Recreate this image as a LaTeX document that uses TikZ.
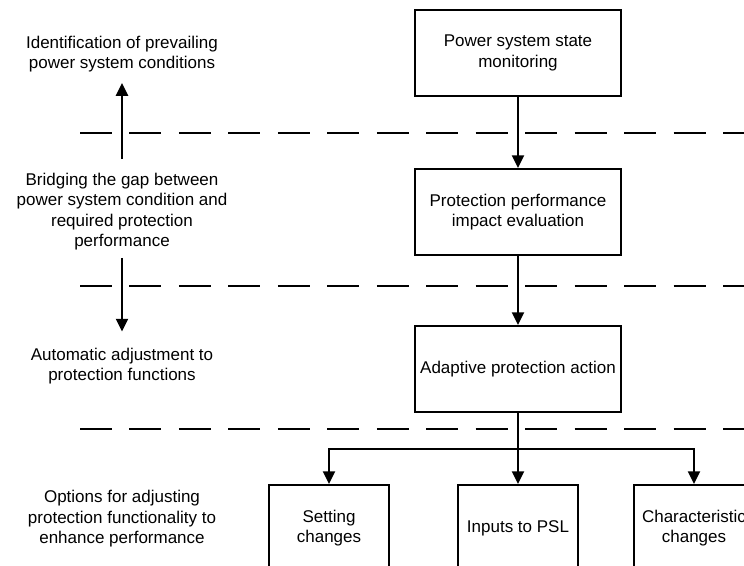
\documentclass[tikz,border=0pt]{standalone}
\usepackage{fontspec}
\setmainfont{Liberation Sans}
\usetikzlibrary{arrows.meta,positioning}

\begin{document}
\begin{tikzpicture}[x=0.75pt,y=-0.75pt,
  every node/.style={font=\fontsize{12.75}{15.4}\selectfont},
  stage/.style={draw,line width=1.5pt,minimum width=154.5pt,minimum height=64.5pt,align=center,inner sep=2pt},
  option/.style={stage,minimum width=90pt},
  note/.style={align=center,inner sep=0pt},
  flow/.style={line width=1.5pt,-{Triangle[length=9.5pt,width=9pt]}},
  divider/.style={line width=1.5pt,dash pattern=on 24pt off 13.1pt}]
\clip (0,0) rectangle (744,566);
% levels
\draw[divider] (80,133) -- (760,133);
\draw[divider] (80,286) -- (760,286);
\draw[divider] (80,429) -- (760,429);
% left column
\node[note] (ident) at (122,54) {Identification of prevailing\\power system conditions};
\node[note] (bridge) at (122,211.5) {Bridging the gap between\\power system condition and\\required protection\\performance};
\node[note] (adjust) at (122,366) {Automatic adjustment to\\protection functions};
\node[note] (opts) at (122,519) {Options for adjusting\\protection functionality to\\enhance performance};
\draw[flow,shorten <=10pt,shorten >=8pt] (bridge.north) -- (ident.south);
\draw[flow,shorten <=5.5pt,shorten >=12pt] (bridge.south) -- (adjust.north);
% right column
\node[stage] (mon) at (518,53) {Power system state\\monitoring};
\node[stage] (eval) at (518,212) {Protection performance\\impact evaluation};
\node[stage] (act) at (518,369) {Adaptive protection action};
\node[option] (set) at (329,528) {Setting\\changes};
\node[option] (psl) at (518,528) {Inputs to PSL};
\node[option] (chr) at (694,528) {Characteristic\\changes};
\coordinate (split) at (518,449);
\draw[flow] (mon) -- (eval);
\draw[flow] (eval) -- (act);
\draw[flow] (act) -- (psl);
\draw[flow] (split) -| (set.north);
\draw[flow] (split) -| (chr.north);
\end{tikzpicture}
\end{document}
